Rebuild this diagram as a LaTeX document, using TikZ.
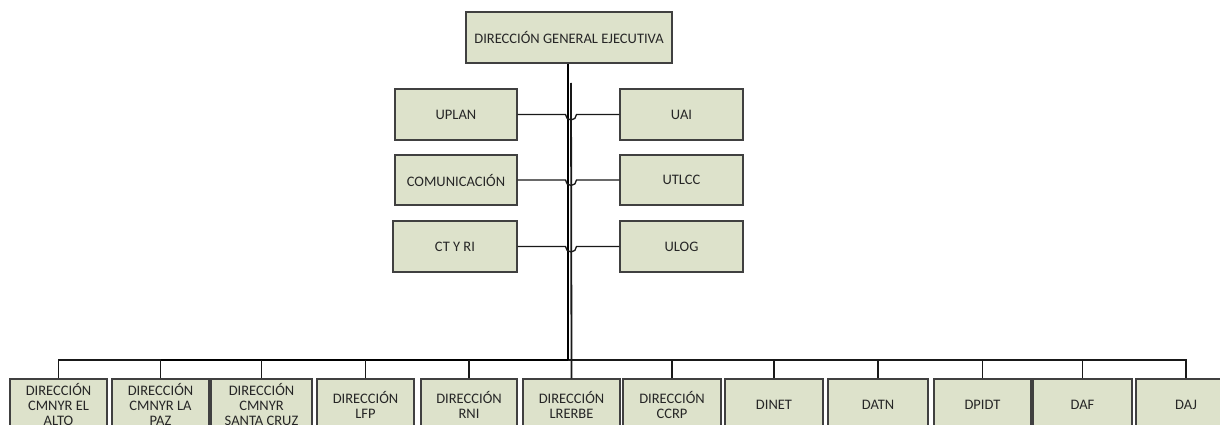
\documentclass[tikz,border=0pt]{standalone}
\usepackage{fontspec}
\setmainfont{Carlito}
\definecolor{boxfill}{HTML}{DDE2CB}
\definecolor{boxline}{HTML}{404040}
\definecolor{txt}{HTML}{262626}
\tikzset{
  unitbox/.style={draw=boxline, line width=1.1pt, fill=boxfill, text=txt, align=center,
    inner sep=0pt, font=\fontsize{14.5}{15}\selectfont},
  conn/.style={draw=black!90, line width=1.3pt},
  thickconn/.style={draw=black, line width=2.4pt},
}
\begin{document}
\begin{tikzpicture}[x=1pt,y=-1pt]
\clip (0,0) rectangle (1220,425);
\fill[white] (0,0) rectangle (1220,425);
% coordinates of the bus and trunk
\coordinate (bus) at (0,360);
\coordinate (trunktop) at (571,83);
% top
\node[unitbox, minimum width=206pt, minimum height=51pt] (top) at (569,37.5) {DIRECCIÓN GENERAL EJECUTIVA};
% side units
\node[unitbox, minimum width=122pt, minimum height=51pt] (uplan) at (456,114.5) {UPLAN};
\node[unitbox, minimum width=123pt, minimum height=51pt] (uai) at (681.5,114.5) {UAI};
\node[unitbox, minimum width=122pt, minimum height=50pt] (com) at (456,180) {COMUNICACIÓN};
\node[unitbox, minimum width=123pt, minimum height=50pt] (utlcc) at (681.5,180) {UTLCC};
\node[unitbox, minimum width=124pt, minimum height=51pt] (ctri) at (455,246.5) {CT Y RI};
\node[unitbox, minimum width=123pt, minimum height=51pt] (ulog) at (681.5,246.5) {ULOG};
% bottom units
\begin{scope}[every node/.style={unitbox, minimum height=51pt}]
\node[minimum width=97pt] (b1) at (58.5,404.5) {DIRECCIÓN\\CMNYR EL\\ALTO};
\node[minimum width=97pt] (b2) at (160.5,404.5) {DIRECCIÓN\\CMNYR LA\\PAZ};
\node[minimum width=101pt] (b3) at (261.5,404.5) {DIRECCIÓN\\CMNYR\\SANTA CRUZ};
\node[minimum width=97pt] (b4) at (365.5,404.5) {DIRECCIÓN\\LFP};
\node[minimum width=96pt] (b5) at (469,404.5) {DIRECCIÓN\\RNI};
\node[minimum width=97pt] (b6) at (571.5,404.5) {DIRECCIÓN\\LRERBE};
\node[minimum width=98pt] (b7) at (672,404.5) {DIRECCIÓN\\CCRP};
\node[minimum width=98pt] (b8) at (774,404.5) {DINET};
\node[minimum width=100pt] (b9) at (878,404.5) {DATN};
\node[minimum width=97pt] (b10) at (982.5,404.5) {DPIDT};
\node[minimum width=99pt] (b11) at (1082.5,404.5) {DAF};
\node[minimum width=100pt] (b12) at (1186,404.5) {DAJ};
\end{scope}
% bus
\draw[conn] (b1.north) -- (b1.north |- bus) -- (b12.north |- bus) -- (b12.north);
\draw[thickconn] (b2.north |- bus) -- ([xshift=-1pt]top.south |- bus);
\draw[conn, line width=1.9pt] ([xshift=-1pt]top.south |- bus) -- (b9.north |- bus);
\foreach \b in {b2,b3,b4,b5,b7,b8,b9,b10,b11}
  \draw[conn] (\b.north) -- (\b.north |- bus);
% trunk
\draw[thickconn] ([xshift=-1pt]top.south) -- ([xshift=-1pt]top.south |- bus);
\draw[conn, line width=1.8pt] (trunktop) -- (b6.north);
% side connectors with hops
\foreach \l/\r in {uplan/uai, com/utlcc, ctri/ulog}
  \draw[conn] (\l.east) -- ([xshift=-5.5pt]trunktop |- \l.east) arc[start angle=180, end angle=360, radius=5.5pt] -- (\r.west);
\end{tikzpicture}
\end{document}
